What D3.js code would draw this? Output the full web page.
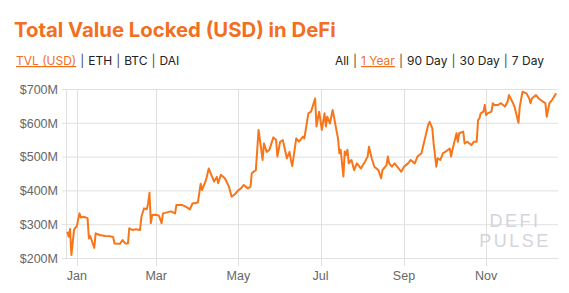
<!DOCTYPE html>
<html><head><meta charset="utf-8">
<script src="https://cdn.jsdelivr.net/npm/d3@7"></script>
<style>
html,body{margin:0;padding:0;background:#fff;}
svg{display:block;}
</style></head>
<body>
<svg id="c" width="569" height="293"></svg>
<script>
const dates = ["2018-12-25","2018-12-26","2018-12-27","2018-12-28","2018-12-30","2018-12-31","2019-01-01","2019-01-03","2019-01-04","2019-01-06","2019-01-09","2019-01-10","2019-01-11","2019-01-14","2019-01-15","2019-01-18","2019-01-22","2019-01-26","2019-01-28","2019-01-29","2019-02-02","2019-02-04","2019-02-06","2019-02-08","2019-02-09","2019-02-11","2019-02-14","2019-02-17","2019-02-18","2019-02-20","2019-02-22","2019-02-23","2019-02-24","2019-02-25","2019-02-26","2019-03-01","2019-03-03","2019-03-05","2019-03-06","2019-03-09","2019-03-12","2019-03-15","2019-03-16","2019-03-20","2019-03-23","2019-03-26","2019-03-28","2019-03-30","2019-04-01","2019-04-03","2019-04-04","2019-04-07","2019-04-09","2019-04-10","2019-04-13","2019-04-15","2019-04-16","2019-04-18","2019-04-21","2019-04-24","2019-04-26","2019-04-29","2019-05-01","2019-05-03","2019-05-05","2019-05-08","2019-05-10","2019-05-11","2019-05-14","2019-05-16","2019-05-19","2019-05-20","2019-05-22","2019-05-24","2019-05-27","2019-05-29","2019-05-30","2019-06-01","2019-06-03","2019-06-06","2019-06-08","2019-06-09","2019-06-10","2019-06-13","2019-06-15","2019-06-18","2019-06-19","2019-06-22","2019-06-24","2019-06-27","2019-06-28","2019-06-30","2019-07-02","2019-07-04","2019-07-05","2019-07-06","2019-07-08","2019-07-10","2019-07-11","2019-07-13","2019-07-14","2019-07-15","2019-07-16","2019-07-18","2019-07-19","2019-07-20","2019-07-21","2019-07-22","2019-07-24","2019-07-26","2019-07-28","2019-07-31","2019-08-03","2019-08-05","2019-08-06","2019-08-08","2019-08-10","2019-08-13","2019-08-15","2019-08-16","2019-08-19","2019-08-20","2019-08-21","2019-08-23","2019-08-25","2019-08-28","2019-08-30","2019-09-01","2019-09-04","2019-09-06","2019-09-09","2019-09-11","2019-09-14","2019-09-16","2019-09-19","2019-09-20","2019-09-22","2019-09-23","2019-09-25","2019-09-26","2019-09-28","2019-09-30","2019-10-02","2019-10-05","2019-10-06","2019-10-07","2019-10-10","2019-10-11","2019-10-12","2019-10-15","2019-10-16","2019-10-18","2019-10-21","2019-10-23","2019-10-25","2019-10-26","2019-10-27","2019-10-28","2019-10-30","2019-10-31","2019-11-01","2019-11-02","2019-11-05","2019-11-06","2019-11-07","2019-11-10","2019-11-12","2019-11-15","2019-11-17","2019-11-18","2019-11-21","2019-11-22","2019-11-23","2019-11-25","2019-11-26","2019-11-28","2019-12-01","2019-12-03","2019-12-04","2019-12-05","2019-12-08","2019-12-10","2019-12-13","2019-12-15","2019-12-16","2019-12-18","2019-12-20","2019-12-23"];
const tvl = [278,263,286,209,283,290,293,332,320,322,318,258,265,230,273,268,265,264,262,243,242,253,243,243,288,283,285,283,322,347,344,362,393,303,327,328,325,303,332,335,338,332,357,357,352,344,362,362,365,420,401,431,465,455,426,440,421,446,436,411,381,391,401,406,416,406,411,451,460,579,490,539,514,520,557,549,500,544,549,495,514,490,472,554,544,559,554,628,633,672,589,633,579,628,589,618,598,638,618,574,554,510,520,441,515,505,520,480,490,460,480,465,485,500,529,495,470,460,436,460,475,500,480,470,480,465,455,470,480,490,480,500,510,544,594,603,584,539,470,495,490,510,515,524,500,520,569,544,569,574,539,544,534,544,544,608,613,628,633,653,623,628,633,658,653,653,658,648,663,682,658,648,633,600,648,692,687,672,658,672,682,672,663,658,618,658,668,687];
const yTicks = [200,300,400,500,600,700];
const xTickDates = ["2019-01-01","2019-03-01","2019-05-01","2019-07-01","2019-09-01","2019-11-01"];
const xDomain = ["2018-12-24","2019-12-24"];
const leftNav = ["TVL (USD)","ETH","BTC","DAI"];
const rightNav = ["All","1 Year","90 Day","30 Day","7 Day"];

const parse = d3.timeParse("%Y-%m-%d");
const data = dates.map((d,i)=>({date:parse(d), v:tvl[i]}));
const svg = d3.select("#c");
const ORANGE = "#f26f1f";
const LINE = "#f7761a";

// Title
const title = svg.append("text").attr("x",14).attr("y",37)
  .attr("font-family","Inter, 'Open Sans', sans-serif").attr("font-weight",700)
  .attr("font-size",22).attr("fill",ORANGE).text("Total Value Locked (USD) in DeFi");
const tw = title.node().getComputedTextLength();
title.attr("font-size", 22*322/tw);

// Nav rows
function navRow(items, activeIdx, x, anchorRight){
  const t = svg.append("text").attr("y",65).attr("font-family","Inter, 'Open Sans', sans-serif")
    .attr("font-size",12).attr("fill","#222").attr("x",x)
    .attr("text-anchor", anchorRight ? "end" : "start");
  items.forEach((s,i)=>{
    if(i>0) t.append("tspan").attr("dx",4).attr("fill","#444").text("|");
    const ts = t.append("tspan").attr("dx", i>0 ? 4 : 0).text(s);
    if(i===activeIdx) ts.attr("fill",ORANGE).attr("text-decoration","underline");
  });
}
navRow(leftNav,0,16,false);
navRow(rightNav,1,544,true);

// Scales
const x = d3.scaleTime().domain(xDomain.map(parse)).range([66,557.5]);
const y = d3.scaleLinear().domain([200,700]).range([258,89]);

// Grid
const grid = svg.append("g");
grid.selectAll("line.h").data(yTicks).join("line")
  .attr("x1",62).attr("x2",558).attr("y1",d=>y(d)+0.5).attr("y2",d=>y(d)+0.5)
  .attr("stroke","#e0e0e0").attr("stroke-width",1);
grid.selectAll("line.v").data(xTickDates.map(parse)).join("line")
  .attr("x1",d=>Math.round(x(d))+0.5).attr("x2",d=>Math.round(x(d))+0.5)
  .attr("y1",89).attr("y2",266).attr("stroke","#e0e0e0").attr("stroke-width",1);
grid.append("line").attr("x1",66.5).attr("x2",66.5).attr("y1",89).attr("y2",258.5)
  .attr("stroke","#e0e0e0");

// Axis labels
svg.append("g").selectAll("text").data(yTicks).join("text")
  .attr("x",58).attr("y",d=>y(d)+0.5).attr("dy","0.35em").attr("text-anchor","end")
  .attr("font-family","'Liberation Sans', Arial, sans-serif").attr("font-size",12.5).attr("fill","#666")
  .text(d=>"$"+d+"M");
const fmt = d3.timeFormat("%b");
svg.append("g").selectAll("text").data(xTickDates.map(parse)).join("text")
  .attr("x",d=>x(d)).attr("y",276).attr("dy","0.35em").attr("text-anchor","middle")
  .attr("font-family","'Liberation Sans', Arial, sans-serif").attr("font-size",12.5).attr("fill","#666")
  .text(d=>fmt(d));

// Watermark
const wm = svg.append("g").attr("font-family","'Liberation Sans', Arial, sans-serif")
  .attr("fill","#d4d4dc").attr("font-size",18).attr("text-anchor","middle");
wm.append("text").attr("x",515).attr("y",227).attr("letter-spacing",2.5).text("DEFI");
wm.append("text").attr("x",515).attr("y",247).attr("letter-spacing",2.5).text("PULSE");

// Line
const line = d3.line().x(d=>x(d.date)).y(d=>y(d.v));
svg.append("path").datum(data).attr("d",line).attr("fill","none")
  .attr("stroke",LINE).attr("stroke-width",2).attr("stroke-linejoin","round");
</script>
</body></html>
